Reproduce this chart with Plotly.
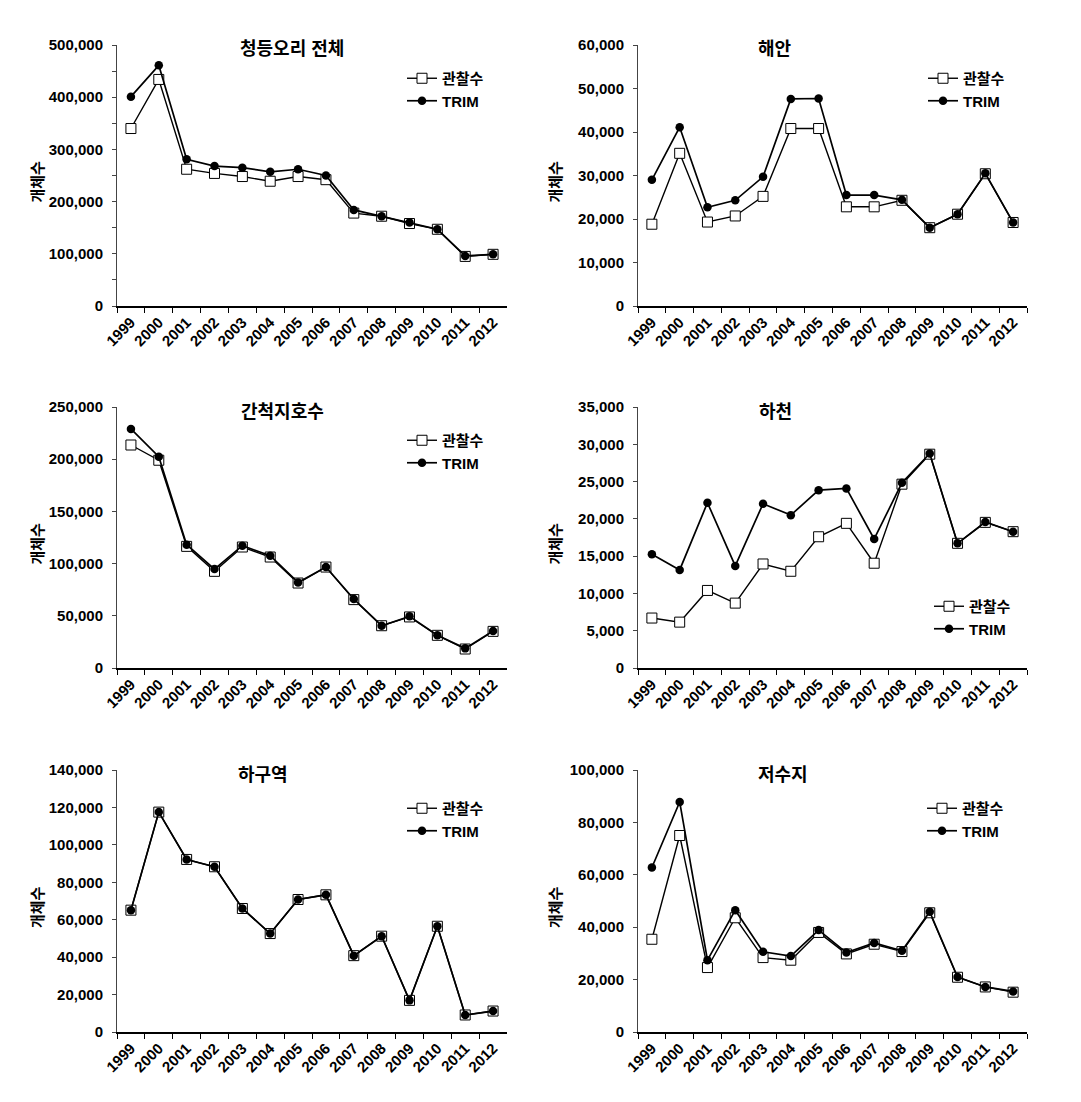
import plotly.graph_objects as go

years = ["1999", "2000", "2001", "2002", "2003", "2004", "2005",
         "2006", "2007", "2008", "2009", "2010", "2011", "2012"]

titles = ["청등오리 전체", "해안", "간척지호수", "하천", "하구역", "저수지"]

total_obs = [340000, 434000, 262000, 254000, 248000, 239000, 248000,
             242000, 178000, 172000, 158000, 147000, 95000, 99000]
total_trim = [401000, 461000, 281000, 268000, 265000, 257000, 262000,
              250000, 184000, 172000, 160000, 147000, 96000, 99000]

coast_obs = [18800, 35100, 19300, 20700, 25200, 40800, 40800,
             22800, 22800, 24300, 18000, 21100, 30400, 19200]
coast_trim = [29000, 41100, 22700, 24300, 29700, 47600, 47700,
              25500, 25500, 24400, 18000, 21100, 30500, 19200]

recl_obs = [213600, 199000, 116500, 92600, 115900, 106300, 81400,
            96700, 65500, 40500, 48900, 31300, 18200, 35100]
recl_trim = [229000, 202400, 118100, 94800, 117200, 107600, 82000,
             96700, 66100, 40500, 49500, 31300, 18800, 35400]

river_obs = [6700, 6150, 10400, 8700, 13950, 12970, 17600,
             19400, 14050, 24650, 28670, 16720, 19530, 18280]
river_trim = [15250, 13150, 22160, 13690, 22020, 20500, 23850,
              24080, 17300, 24830, 28760, 16720, 19570, 18280]

estuary_obs = [65100, 117500, 92200, 88300, 66000, 52600, 70800,
               73300, 40800, 51200, 16900, 56500, 9100, 11200]
estuary_trim = [65100, 117500, 92200, 88300, 66000, 52600, 70800,
                73300, 40800, 51200, 16900, 56500, 9100, 11200]

reservoir_obs = [35400, 75000, 24600, 43600, 28400, 27400, 38000,
                 29800, 33500, 30700, 45500, 20900, 17200, 15200]
reservoir_trim = [62800, 87800, 27400, 46500, 30600, 29000, 38900,
                  30300, 34000, 31000, 45900, 21000, 17200, 15500]

series_obs = [total_obs, coast_obs, recl_obs, river_obs, estuary_obs, reservoir_obs]
series_trim = [total_trim, coast_trim, recl_trim, river_trim, estuary_trim, reservoir_trim]

y_max = [500000, 60000, 250000, 35000, 140000, 100000]
y_dtick = [100000, 10000, 50000, 5000, 20000, 20000]
y_minor = [50000, None, None, None, None, None]

legend_names = ["관찰수", "TRIM"]

W, H = 1081, 1102
OFF = 8  # page body margin compensation
FONT = "Liberation Sans, Arial, Noto Sans CJK KR, sans-serif"


def px(v):
    return (v - OFF) / W


def py(v):
    return 1 - (v - OFF) / H


# layout geometry (pixels, in screenshot coordinates)
col_x = [(117, 507), (638, 1027)]
row_y = [(45, 306), (407, 668), (770, 1032)]
title_pos = [(292, 49), (775, 49), (282, 412), (775, 412), (263, 775), (783, 775)]
legend_pos = [(402, 62), (923, 62), (402, 424), (929, 590), (402, 792), (922, 792)]
ytitle_x = [37, 555]

fig = go.Figure()
layout = dict(
    width=W, height=H,
    margin=dict(l=0, r=0, t=0, b=0, autoexpand=False),
    paper_bgcolor="white", plot_bgcolor="white",
    font=dict(family=FONT, color="black"),
    showlegend=True,
    annotations=[],
)

for i in range(6):
    r, c = divmod(i, 2)
    n = i + 1
    xa = "x" if n == 1 else f"x{n}"
    ya = "y" if n == 1 else f"y{n}"
    lg = "legend" if n == 1 else f"legend{n}"
    x0, x1 = col_x[c]
    ytop, ybot = row_y[r]

    fig.add_trace(go.Scatter(
        x=years, y=series_obs[i], name=legend_names[0], mode="lines+markers",
        line=dict(color="black", width=1.4),
        marker=dict(symbol="square", size=10, color="white",
                    line=dict(color="black", width=1)),
        xaxis=xa, yaxis=ya, legend=lg,
    ))
    fig.add_trace(go.Scatter(
        x=years, y=series_trim[i], name=legend_names[1], mode="lines+markers",
        line=dict(color="black", width=1.7),
        marker=dict(symbol="circle", size=8.5, color="black",
                    line=dict(color="black", width=0)),
        xaxis=xa, yaxis=ya, legend=lg,
    ))

    xkey = "xaxis" if n == 1 else f"xaxis{n}"
    ykey = "yaxis" if n == 1 else f"yaxis{n}"
    layout[xkey] = dict(
        domain=[px(x0), px(x1)], anchor=ya, type="category", automargin=False,
        range=[-0.5, 13.5], showgrid=False, zeroline=False,
        showline=True, linecolor="black", linewidth=1.5,
        ticks="outside", tickson="boundaries", ticklen=5, tickcolor="black",
        tickangle=-45, tickfont=dict(family=FONT, size=15, color="black", weight="bold"),
    )
    ydict = dict(
        domain=[py(ybot), py(ytop)], anchor=xa, automargin=False,
        range=[0, y_max[i]], dtick=y_dtick[i], tick0=0,
        showgrid=False, zeroline=False,
        showline=True, linecolor="#444444", linewidth=1,
        ticks="outside", ticklen=4, tickcolor="#444444",
        tickformat=",", ticklabelstandoff=6,
        tickfont=dict(family=FONT, size=15, color="black", weight="bold"),
    )
    if y_minor[i]:
        ydict["minor"] = dict(dtick=y_minor[i], ticks="outside", ticklen=4,
                              tickcolor="#444444", showgrid=False)
    layout[ykey] = ydict

    lx, ly = legend_pos[i]
    layout[lg] = dict(
        x=px(lx), y=py(ly), xanchor="left", yanchor="top",
        bgcolor="rgba(0,0,0,0)", borderwidth=0,
        font=dict(family=FONT, size=15, color="black", weight="bold"),
        tracegroupgap=0, itemwidth=30,
    )

    tx, ty = title_pos[i]
    layout["annotations"].append(dict(
        text=titles[i], x=px(tx), y=py(ty), xref="paper", yref="paper",
        xanchor="center", yanchor="middle", showarrow=False,
        font=dict(family=FONT, size=18, color="black", weight="bold"),
    ))
    layout["annotations"].append(dict(
        text="개체수", x=px(ytitle_x[c]), y=py((ytop + ybot) / 2 + 6),
        xref="paper", yref="paper", xanchor="center", yanchor="middle",
        textangle=-90, showarrow=False,
        font=dict(family=FONT, size=15, color="black", weight="bold"),
    ))

fig.update_layout(**layout)
fig.write_html("out.html")
